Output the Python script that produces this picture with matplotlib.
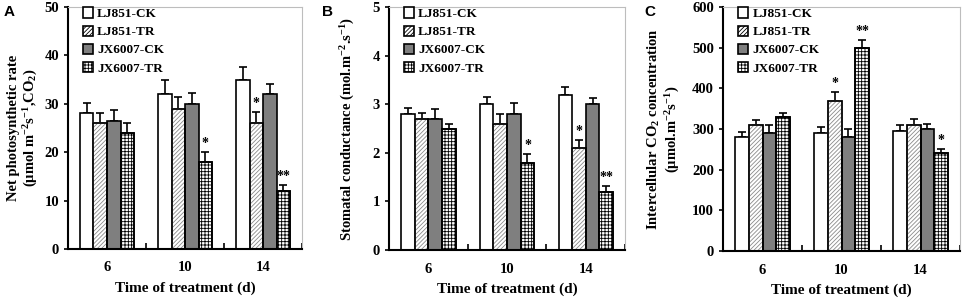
import numpy as np
import matplotlib
matplotlib.use("Agg")
import matplotlib.pyplot as plt
from matplotlib.patches import Patch

plt.rcParams['font.family'] = ['Liberation Serif', 'DejaVu Serif']
plt.rcParams['font.weight'] = 'bold'
plt.rcParams['axes.labelweight'] = 'bold'
plt.rcParams['mathtext.fontset'] = 'custom'
plt.rcParams['mathtext.rm'] = 'Liberation Serif:bold'
plt.rcParams['mathtext.it'] = 'Liberation Serif:bold'
plt.rcParams['mathtext.bf'] = 'Liberation Serif:bold'
plt.rcParams['hatch.linewidth'] = 0.6

# data
days = ["6", "10", "14"]
series = ["LJ851-CK", "LJ851-TR", "JX6007-CK", "JX6007-TR"]

pn_mean = [[28, 32, 35], [26, 29, 26], [26.5, 30, 32], [24, 18, 12]]
pn_err = [[2.2, 3.0, 2.5], [2.0, 2.3, 2.3], [2.2, 2.3, 2.0], [2.0, 2.0, 1.3]]
pn_sig = [["", "", ""], ["", "", "*"], ["", "", ""], ["", "*", "**"]]

gs_mean = [[2.8, 3.0, 3.2], [2.7, 2.6, 2.1], [2.7, 2.8, 3.0], [2.5, 1.8, 1.2]]
gs_err = [[0.12, 0.15, 0.15], [0.12, 0.2, 0.17], [0.2, 0.22, 0.13], [0.1, 0.18, 0.12]]
gs_sig = [["", "", ""], ["", "", "*"], ["", "", ""], ["", "*", "**"]]

ci_mean = [[280, 290, 295], [310, 370, 310], [290, 280, 300], [330, 500, 240]]
ci_err = [[13, 15, 15], [12, 20, 15], [20, 20, 13], [10, 18, 10]]
ci_sig = [["", "", ""], ["", "*", ""], ["", "", ""], ["", "**", "*"]]

# styles per series
faces = ["white", "white", "#7f7f7f", "white"]
hatches = [None, "////////", None, "+++++"]
hatch_cols = ["black", "#8a8a8a", "black", "black"]

panels = [
    ("A", pn_mean, pn_err, pn_sig, 50, 10,
     "Net photosynthetic rate\n(μmol m$^{-2}$s$^{-1}$,CO$_2$)",
     [0.0705, 0.184, 0.243, 0.793], -0.12, 0.004),
    ("B", gs_mean, gs_err, gs_sig, 5, 1,
     "Stomatal conductance (mol.m$^{-2}$.s$^{-1}$)",
     [0.4035, 0.180, 0.245, 0.797], -0.136, 0.334),
    ("C", ci_mean, ci_err, ci_sig, 600, 100,
     "Intercellular CO$_2$ concentration\n(μmol.m$^{-2}$s$^{-1}$)",
     [0.750, 0.177, 0.246, 0.800], -0.173, 0.668),
]

fig = plt.figure(figsize=(9.64, 3.05), dpi=100)
x = np.arange(len(days))
w = 0.173

for letter, means, errs, sigs, ymax, step, ylab, pos, labx, letx in panels:
    ax = fig.add_axes(pos)
    for i in range(len(series)):
        xi = x + (i - 1.5) * w
        bars = ax.bar(xi, means[i], w, color=faces[i], edgecolor="black",
                      linewidth=1.2, hatch=hatches[i], zorder=2)
        if hatches[i]:
            for b in bars:
                b.set_edgecolor(hatch_cols[i])
            ax.bar(xi, means[i], w, color="none", edgecolor="black",
                   linewidth=1.2, zorder=3)
        ax.errorbar(xi, means[i], yerr=[np.zeros(3), errs[i]], fmt="none",
                    ecolor="black", elinewidth=1.2, capsize=3, capthick=1.2, zorder=1)
        for j in range(3):
            if sigs[i][j]:
                ax.text(xi[j], means[i][j] + errs[i][j] + ymax * 0.008, sigs[i][j],
                        ha="center", va="bottom", fontsize=10)
    ax.set_xlim(-0.5, 2.5)
    ax.set_ylim(0, ymax)
    ax.set_yticks(np.arange(0, ymax + step / 2, step))
    ax.set_xticks(x)
    ax.set_xticklabels(days)
    ax.set_xticks([0.5, 1.5, 2.5], minor=True)
    ax.tick_params(axis="x", which="major", length=0, labelsize=10.5, pad=9)
    ax.tick_params(axis="x", which="minor", direction="in", length=4, width=1.2)
    ax.tick_params(axis="y", direction="out", length=3, width=1.2, labelsize=10.5)
    for s in ["left", "bottom"]:
        ax.spines[s].set_linewidth(1.5)
    for s in ["top", "right"]:
        ax.spines[s].set_color("#bdbdbd")
        ax.spines[s].set_linewidth(0.8)
    ax.set_xlabel("Time of treatment (d)", fontsize=11, labelpad=5)
    ax.set_ylabel(ylab, fontsize=10.5, linespacing=1.15)
    ax.yaxis.set_label_coords(labx, 0.5)
    handles = [Patch(facecolor=faces[i], edgecolor="black", hatch=hatches[i], linewidth=1.2)
               for i in range(len(series))]
    ax.legend(handles, series, loc="upper left", frameon=False, fontsize=9.5,
              handlelength=0.8, handleheight=0.8, handletextpad=0.3,
              labelspacing=0.42, borderaxespad=0.0, bbox_to_anchor=(0.04, 1.02))
    fig.text(letx, 0.985, letter, family="Liberation Sans", fontweight="bold",
             fontsize=11, va="top", ha="left")

fig.savefig("out.png", dpi=100)
